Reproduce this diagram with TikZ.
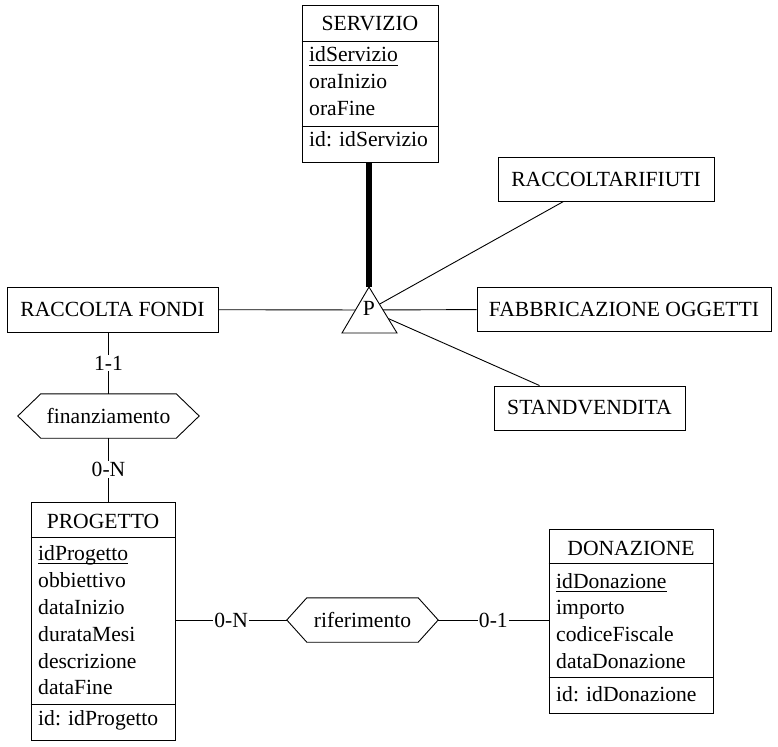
\documentclass[tikz,border=0pt]{standalone}
\usepackage{fontspec}
\setmainfont{Liberation Serif}
\usetikzlibrary{calc}
\begin{document}
\begin{tikzpicture}[x=1pt,y=-1pt, font=\fontsize{21.6}{25}\selectfont,
  box/.style={draw, line width=0.9pt, inner sep=0pt},
  sep/.style={line width=0.9pt},
  ttl/.style={inner sep=0pt, anchor=base},
  attr/.style={inner sep=0pt, anchor=base west},
  conn/.style={line width=0.9pt},
  card/.style={fill=white, inner sep=1.2pt},
  ul/.style={line width=1.3pt}]
\useasboundingbox (0,0) rectangle (778,746);

% ---------- SERVIZIO ----------
\node[box, minimum width=136pt, minimum height=157pt] (serv) at (370,84) {};
\draw[sep] ($(serv.north west)+(0,36.5)$) -- ($(serv.north east)+(0,36.5)$);
\draw[sep] ($(serv.north west)+(0,121.5)$) -- ($(serv.north east)+(0,121.5)$);
\node[ttl] (serv-t) at (370,31) {SERVIZIO};
\node[attr] (serv-a1) at (309,62) {idServizio};
\draw[ul] ($(serv-a1.base west)+(0,3.8)$) -- ($(serv-a1.base east)+(0,3.8)$);
\node[attr] (serv-a2) at (309,89) {oraInizio};
\node[attr] (serv-a3) at (309,116) {oraFine};
\node[attr] (serv-id) at (309,147) {id: idServizio};

% ---------- subtypes ----------
\node[box, minimum width=216pt, minimum height=44pt] (rr) at (606,179) {RACCOLTARIFIUTI};
\node[box, minimum width=294pt, minimum height=44pt] (fab) at (624,309) {FABBRICAZIONE OGGETTI};
\node[box, minimum width=191pt, minimum height=44pt] (sv) at (589.5,408) {STANDVENDITA};
\node[box, minimum width=211pt, minimum height=45pt] (rf) at (112.5,309.5) {RACCOLTA FONDI};

% ---------- generalization triangle ----------
\coordinate (tric) at (369,310);
\coordinate (apex) at (369,287);
\draw[line width=6pt] (serv.south -| apex) -- (apex);
\draw[conn] (rf) -- (tric);
\draw[conn] (tric) -- (fab);
\draw[conn] (tric) -- ($(rr.south west)+(66,0)$);
\draw[conn] (tric) -- ($(sv.north west)+(46,0)$);
\draw[line width=0.9pt, fill=white, line join=miter] (apex) -- (342,333) -- (397,333) -- cycle;
\node[ttl] (tri) at (369,315) {P};

% ---------- finanziamento ----------
\node[minimum width=181pt, minimum height=44pt, inner sep=0pt] (fin) at (108.5,416) {finanziamento};
\draw[line width=0.9pt] (fin.west) -- ($(fin.north west)+(23,0)$) -- ($(fin.north east)+(-23,0)$)
  -- (fin.east) -- ($(fin.south east)+(-23,0)$) -- ($(fin.south west)+(23,0)$) -- cycle;

% ---------- PROGETTO ----------
\node[box, minimum width=144pt, minimum height=238pt] (prog) at (103,621) {};
\draw[sep] ($(prog.north west)+(0,36)$) -- ($(prog.north east)+(0,36)$);
\draw[sep] ($(prog.north west)+(0,203)$) -- ($(prog.north east)+(0,203)$);
\node[ttl] (prog-t) at (103,528) {PROGETTO};
\node[attr] (prog-a1) at (38,560) {idProgetto};
\draw[ul] ($(prog-a1.base west)+(0,3.8)$) -- ($(prog-a1.base east)+(0,3.8)$);
\node[attr] (prog-a2) at (38,587) {obbiettivo};
\node[attr] (prog-a3) at (38,614) {dataInizio};
\node[attr] (prog-a4) at (38,641) {durataMesi};
\node[attr] (prog-a5) at (38,668) {descrizione};
\node[attr] (prog-a6) at (38,694) {dataFine};
\node[attr] (prog-id) at (38,725) {id: idProgetto};

\draw[conn] (rf.south -| fin.north) -- node[card] {1-1} (fin.north);
\draw[conn] (fin.south) -- node[card] {0-N} (fin.south |- prog.north);

% ---------- riferimento ----------
\node[minimum width=151pt, minimum height=44pt, inner sep=0pt] (rif) at (362.5,620) {riferimento};
\draw[line width=0.9pt] (rif.west) -- ($(rif.north west)+(20,0)$) -- ($(rif.north east)+(-20,0)$)
  -- (rif.east) -- ($(rif.south east)+(-20,0)$) -- ($(rif.south west)+(20,0)$) -- cycle;

% ---------- DONAZIONE ----------
\node[box, minimum width=164pt, minimum height=184pt] (don) at (631,621) {};
\draw[sep] ($(don.north west)+(0,35)$) -- ($(don.north east)+(0,35)$);
\draw[sep] ($(don.north west)+(0,149)$) -- ($(don.north east)+(0,149)$);
\node[ttl] (don-t) at (631,555) {DONAZIONE};
\node[attr] (don-a1) at (556,588) {idDonazione};
\draw[ul] ($(don-a1.base west)+(0,3.8)$) -- ($(don-a1.base east)+(0,3.8)$);
\node[attr] (don-a2) at (556,614) {importo};
\node[attr] (don-a3) at (556,641) {codiceFiscale};
\node[attr] (don-a4) at (556,668) {dataDonazione};
\node[attr] (don-id) at (556,701) {id: idDonazione};

\draw[conn] (prog.east |- rif.west) -- node[card] {0-N} (rif.west);
\draw[conn] (rif.east) -- node[card] {0-1} (don.west |- rif.east);
\end{tikzpicture}
\end{document}
